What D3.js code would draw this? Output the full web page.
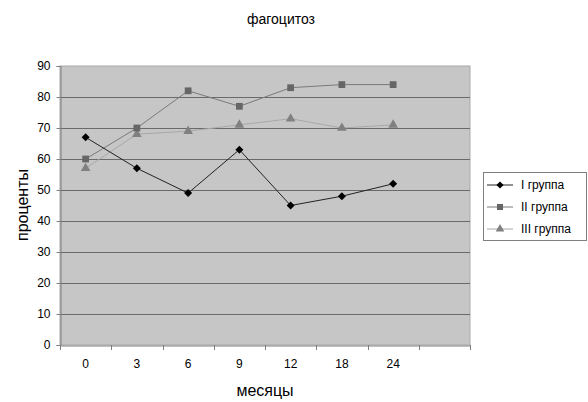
<!DOCTYPE html>
<html><head><meta charset="utf-8">
<script src="https://cdn.jsdelivr.net/npm/d3@7"></script>
<style>body{margin:0;background:#fff}svg{display:block;font-family:"Liberation Sans",Arial,sans-serif}</style>
</head><body>
<svg id="c" width="588" height="402"></svg>
<script>
const categories = ["0","3","6","9","12","18","24",""];
const groupI   = [67, 57, 49, 63, 45, 48, 52];
const groupII  = [60, 70, 82, 77, 83, 84, 84];
const groupIII = [57, 68, 69, 71, 73, 70, 71];
const seriesNames = ["I группа","II группа","III группа"];
const yTicks = [0,10,20,30,40,50,60,70,80,90];

const svg = d3.select("#c");
const L=60,R=470,T=66,B=345;
const x = d3.scaleBand().domain(categories.map((c,i)=>i)).range([L,R]);
const y = d3.scaleLinear().domain([0,90]).range([B,T]);

svg.append("rect").attr("x",L).attr("y",T).attr("width",R-L).attr("height",B-T)
  .attr("fill","#c6c6c6").attr("stroke","#a8a8a8").attr("stroke-width",1);

svg.append("g").selectAll("line").data(yTicks.filter(d=>d>0&&d<90)).join("line")
  .attr("x1",L).attr("x2",R).attr("y1",d=>Math.round(y(d))+0.5).attr("y2",d=>Math.round(y(d))+0.5)
  .attr("stroke","#6a6a6a").attr("stroke-width",1);

const ya = svg.append("g").attr("transform",`translate(${L+0.5},0)`)
  .call(d3.axisLeft(y).tickValues(yTicks).tickSize(4).tickPadding(6));
ya.select(".domain").attr("stroke","#808080");
ya.selectAll(".tick line").attr("stroke","#808080");
ya.selectAll("text").attr("font-size",12).attr("fill","#000").attr("font-family","Liberation Sans, Arial");

const xa = svg.append("g").attr("transform",`translate(0,${B+0.5})`)
  .call(d3.axisBottom(x).tickFormat(i=>categories[i]).tickSize(0).tickPadding(14));
xa.select(".domain").attr("stroke","#808080");
xa.selectAll("text").attr("font-size",12).attr("fill","#000").attr("font-family","Liberation Sans, Arial");
svg.append("g").selectAll("line").data(d3.range(categories.length+1)).join("line")
  .attr("x1",i=>Math.round(L+i*x.step())+0.5).attr("x2",i=>Math.round(L+i*x.step())+0.5)
  .attr("y1",B).attr("y2",B+5).attr("stroke","#808080");

const squareDiamond = {draw(ctx,size){const r=Math.sqrt(size/2);ctx.moveTo(0,-r);ctx.lineTo(r,0);ctx.lineTo(0,r);ctx.lineTo(-r,0);ctx.closePath();}};

const cx = i=>x(i)+x.bandwidth()/2;
const series = [
  {name:seriesNames[0], vals:groupI, line:"#222", fill:"#000", sym:squareDiamond, size:32},
  {name:seriesNames[1], vals:groupII, line:"#7a7a7a", fill:"#666", sym:d3.symbolSquare, size:46},
  {name:seriesNames[2], vals:groupIII, line:"#a8a8a8", fill:"#808080", sym:d3.symbolTriangle, size:40},
];
const line = d3.line().x((d,i)=>cx(i)).y(d=>y(d));
series.slice().reverse().forEach(s=>{
  svg.append("path").datum(s.vals).attr("d",line).attr("fill","none").attr("stroke",s.line).attr("stroke-width",1);
});
series.slice().reverse().forEach(s=>{
  svg.append("g").selectAll("path").data(s.vals).join("path")
    .attr("transform",(d,i)=>`translate(${cx(i)},${y(d)})`)
    .attr("d",d3.symbol().type(s.sym).size(s.size)).attr("fill",s.fill);
});

svg.append("text").attr("x",281).attr("y",24).attr("text-anchor","middle").attr("font-size",14).text("фагоцитоз");
svg.append("text").attr("transform","translate(28,205) rotate(-90)").attr("text-anchor","middle").attr("font-size",16).text("проценты");
svg.append("text").attr("x",265).attr("y",396).attr("text-anchor","middle").attr("font-size",16).text("месяцы");

svg.append("rect").attr("x",483.5).attr("y",172.5).attr("width",103).attr("height",68)
  .attr("fill","#fff").attr("stroke","#808080");
series.forEach((s,k)=>{
  const yy = 185 + k*22;
  svg.append("line").attr("x1",487).attr("x2",513).attr("y1",yy).attr("y2",yy).attr("stroke",s.line);
  svg.append("path").attr("transform",`translate(500,${yy})`).attr("d",d3.symbol().type(s.sym).size(s.size*0.8)).attr("fill",s.fill);
  svg.append("text").attr("x",521).attr("y",yy+4).attr("font-size",12).text(s.name);
});
</script>
</body></html>
